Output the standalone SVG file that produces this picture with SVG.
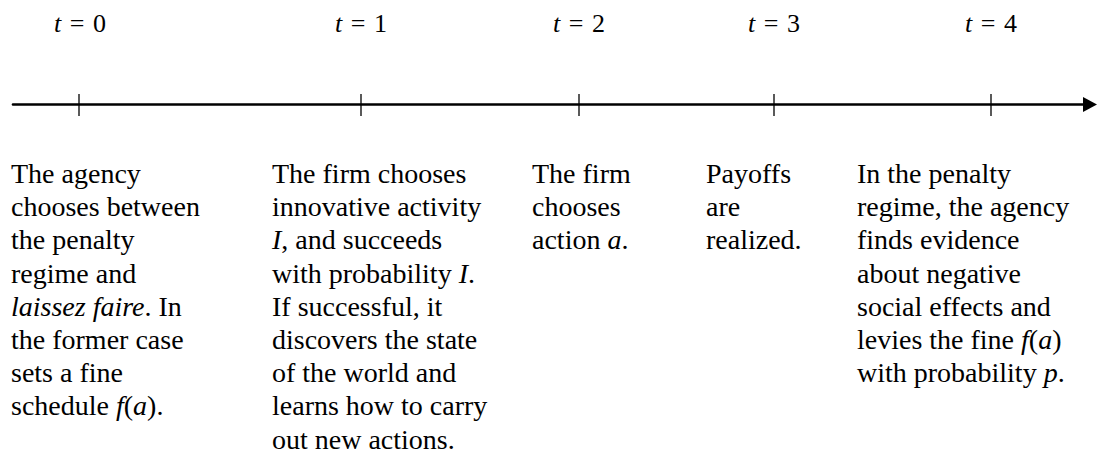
<svg xmlns="http://www.w3.org/2000/svg" width="1097" height="455" viewBox="0 0 1097 455">
<style>
  text { font-family: "Liberation Serif", "Times New Roman", serif; fill: #000; }
  .lbl { font-size: 26px; text-anchor: middle; word-spacing: 2px; }
  .body { font-size: 28px; }
  .it { font-style: italic; }
  .tick { stroke: #000; stroke-width: 1.3; }
  .axis { stroke: #000; stroke-width: 2.6; stroke-linecap: round; fill: none; }
</style>
<rect width="1097" height="455" fill="#fff"/>
<g id="connectors">
  <line class="axis" x1="13" y1="104.5" x2="1086" y2="104.5"/>
  <polygon points="1083,97 1097,104.5 1083,112" fill="#000"/>
</g>
<g id="t0">
  <line class="tick" x1="79" y1="94" x2="79" y2="116"/>
  <text class="lbl" x="80" y="32"><tspan class="it">t</tspan> = 0</text>
  <text class="body" x="11" y="183">
    <tspan x="11" y="183">The agency</tspan>
    <tspan x="11" y="216.2">chooses between</tspan>
    <tspan x="11" y="249.4">the penalty</tspan>
    <tspan x="11" y="282.6">regime and</tspan>
    <tspan x="11" y="315.8"><tspan class="it">laissez faire</tspan>. In</tspan>
    <tspan x="11" y="349">the former case</tspan>
    <tspan x="11" y="382.2">sets a fine</tspan>
    <tspan x="11" y="415.4">schedule <tspan class="it">f</tspan>(<tspan class="it">a</tspan>).</tspan>
  </text>
</g>
<g id="t1">
  <line class="tick" x1="361" y1="94" x2="361" y2="116"/>
  <text class="lbl" x="361" y="32"><tspan class="it">t</tspan> = 1</text>
  <text class="body" x="272" y="183">
    <tspan x="272" y="183">The firm chooses</tspan>
    <tspan x="272" y="216.2">innovative activity</tspan>
    <tspan x="272" y="249.4"><tspan class="it">I</tspan>, and succeeds</tspan>
    <tspan x="272" y="282.6">with probability <tspan class="it">I</tspan>.</tspan>
    <tspan x="272" y="315.8">If successful, it</tspan>
    <tspan x="272" y="349">discovers the state</tspan>
    <tspan x="272" y="382.2">of the world and</tspan>
    <tspan x="272" y="415.4">learns how to carry</tspan>
    <tspan x="272" y="448.6">out new actions.</tspan>
  </text>
</g>
<g id="t2">
  <line class="tick" x1="579" y1="94" x2="579" y2="116"/>
  <text class="lbl" x="579" y="32"><tspan class="it">t</tspan> = 2</text>
  <text class="body" x="532" y="183">
    <tspan x="532" y="183">The firm</tspan>
    <tspan x="532" y="216.2">chooses</tspan>
    <tspan x="532" y="249.4">action <tspan class="it">a</tspan>.</tspan>
  </text>
</g>
<g id="t3">
  <line class="tick" x1="774" y1="94" x2="774" y2="116"/>
  <text class="lbl" x="774" y="32"><tspan class="it">t</tspan> = 3</text>
  <text class="body" x="706" y="183">
    <tspan x="706" y="183">Payoffs</tspan>
    <tspan x="706" y="216.2">are</tspan>
    <tspan x="706" y="249.4">realized.</tspan>
  </text>
</g>
<g id="t4">
  <line class="tick" x1="991" y1="94" x2="991" y2="116"/>
  <text class="lbl" x="991" y="32"><tspan class="it">t</tspan> = 4</text>
  <text class="body" x="857" y="183">
    <tspan x="857" y="183">In the penalty</tspan>
    <tspan x="857" y="216.2">regime, the agency</tspan>
    <tspan x="857" y="249.4">finds evidence</tspan>
    <tspan x="857" y="282.6">about negative</tspan>
    <tspan x="857" y="315.8">social effects and</tspan>
    <tspan x="857" y="349">levies the fine <tspan class="it">f</tspan>(<tspan class="it">a</tspan>)</tspan>
    <tspan x="857" y="382.2">with probability <tspan class="it">p</tspan>.</tspan>
  </text>
</g>
</svg>
